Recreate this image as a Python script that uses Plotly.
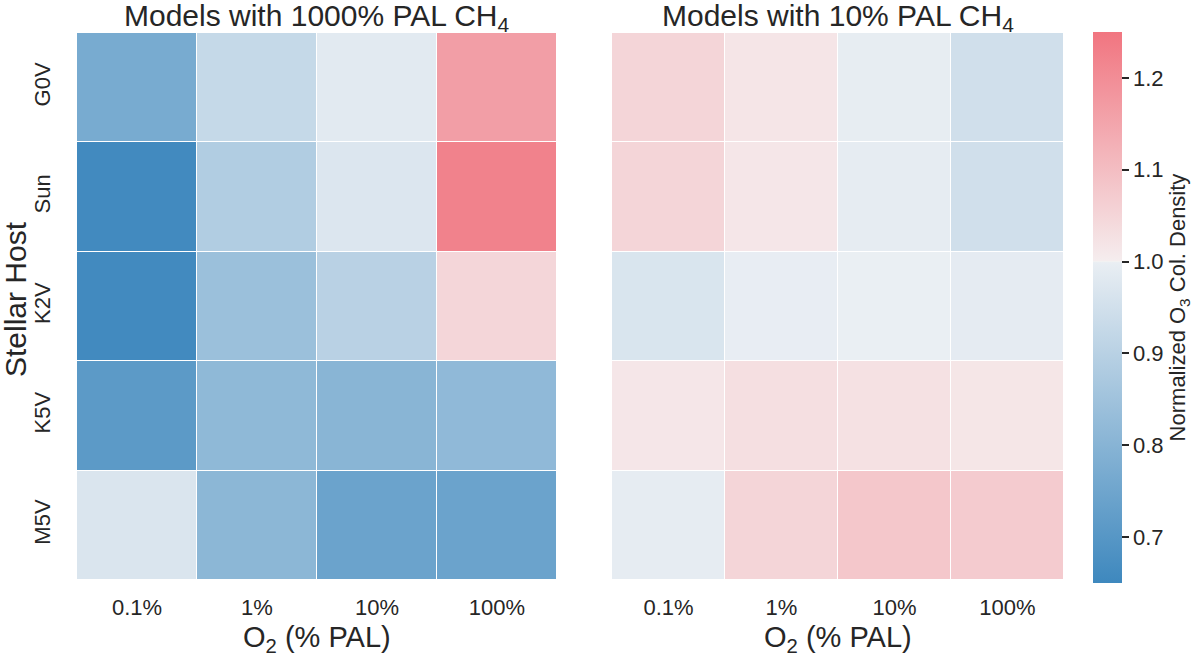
import plotly.graph_objects as go

hosts = ["G0V", "Sun", "K2V", "K5V", "M5V"]
o2_levels = ["0.1%", "1%", "10%", "100%"]

# Normalized O3 column density, rows = hosts, cols = O2 levels
ch4_1000 = [
    [0.769, 0.926, 0.984, 1.165],
    [0.658, 0.885, 0.973, 1.223],
    [0.658, 0.840, 0.900, 1.048],
    [0.711, 0.816, 0.804, 0.818],
    [0.969, 0.810, 0.742, 0.742],
]
ch4_10 = [
    [1.050, 1.017, 0.995, 0.947],
    [1.050, 1.015, 0.992, 0.947],
    [0.967, 0.996, 0.999, 0.990],
    [1.015, 1.031, 1.027, 1.016],
    [0.992, 1.050, 1.081, 1.071],
]
zmin, zmax = 0.65, 1.25
cbar_ticks = [0.7, 0.8, 0.9, 1.0, 1.1, 1.2]

c = (1.0 - zmin) / (zmax - zmin)
colorscale = [
    [0.0, "rgb(62,136,190)"],
    [c - 0.002, "rgb(233,238,243)"],
    [c, "rgb(242,242,242)"],
    [c + 0.002, "rgb(245,237,238)"],
    [1.0, "rgb(241,117,128)"],
]

FONT = "Liberation Sans, Arial, Helvetica, sans-serif"
TXT = "#262626"

fig = go.Figure()
fig.add_trace(go.Heatmap(
    z=ch4_1000, x=o2_levels, y=hosts, xaxis="x", yaxis="y",
    colorscale=colorscale, zmin=zmin, zmax=zmax, xgap=1, ygap=1,
    showscale=False,
))
fig.add_trace(go.Heatmap(
    z=ch4_10, x=o2_levels, y=hosts, xaxis="x2", yaxis="y2",
    colorscale=colorscale, zmin=zmin, zmax=zmax, xgap=1, ygap=1,
    showscale=True,
    colorbar=dict(
        x=1093 / 1200, xanchor="left", xpad=0, y=1 - 307.5 / 657, yanchor="middle", ypad=0,
        len=551 / 657, lenmode="fraction", thickness=29, outlinewidth=0,
        tickvals=cbar_ticks, ticktext=[f"{t:.1f}" for t in cbar_ticks],
        ticks="outside", ticklen=7, tickwidth=1.5, tickcolor=TXT,
        tickfont=dict(size=22, color=TXT, family=FONT),
        title=dict(text="Normalized O<sub>3</sub> Col. Density", side="right",
                   font=dict(size=22, color=TXT, family=FONT)),
    ),
))

ydom = [1 - 580 / 657, 1 - 33 / 657]
axis_common = dict(showgrid=False, zeroline=False, showline=False, ticks="",
                   automargin=False, tickfont=dict(size=22, color=TXT, family=FONT))

def ann(text, x, y, size, angle=0):
    return dict(text=text, x=x / 1200, y=1 - y / 657, xref="paper", yref="paper",
                showarrow=False, xanchor="center", yanchor="middle", textangle=angle,
                font=dict(size=size, color=TXT, family=FONT))

fig.update_layout(
    width=1200, height=657,
    margin=dict(l=0, r=0, t=0, b=0),
    paper_bgcolor="white", plot_bgcolor="white",
    font=dict(family=FONT, color=TXT),
    xaxis=dict(domain=[77 / 1200, 557 / 1200], anchor="y", ticklabelstandoff=12, **axis_common),
    yaxis=dict(domain=ydom, anchor="x", autorange="reversed", tickangle=-90,
               ticklabelstandoff=22, **axis_common),
    xaxis2=dict(domain=[612 / 1200, 1064 / 1200], anchor="y2", ticklabelstandoff=12, **axis_common),
    yaxis2=dict(domain=ydom, anchor="x2", autorange="reversed", showticklabels=False,
                **axis_common),
    annotations=[
        ann("Models with 1000% PAL CH<sub>4</sub>", 317, 17, 30),
        ann("Models with 10% PAL CH<sub>4</sub>", 838, 17, 30),
        ann("O<sub>2</sub> (% PAL)", 317, 639, 29),
        ann("O<sub>2</sub> (% PAL)", 838, 639, 29),
        ann("Stellar Host", 16, 299, 30, -90),
    ],
)

fig.write_html(
    "out.html",
    config={"displayModeBar": False},
    post_script="document.body.style.margin='0';document.body.style.overflow='hidden';",
)
